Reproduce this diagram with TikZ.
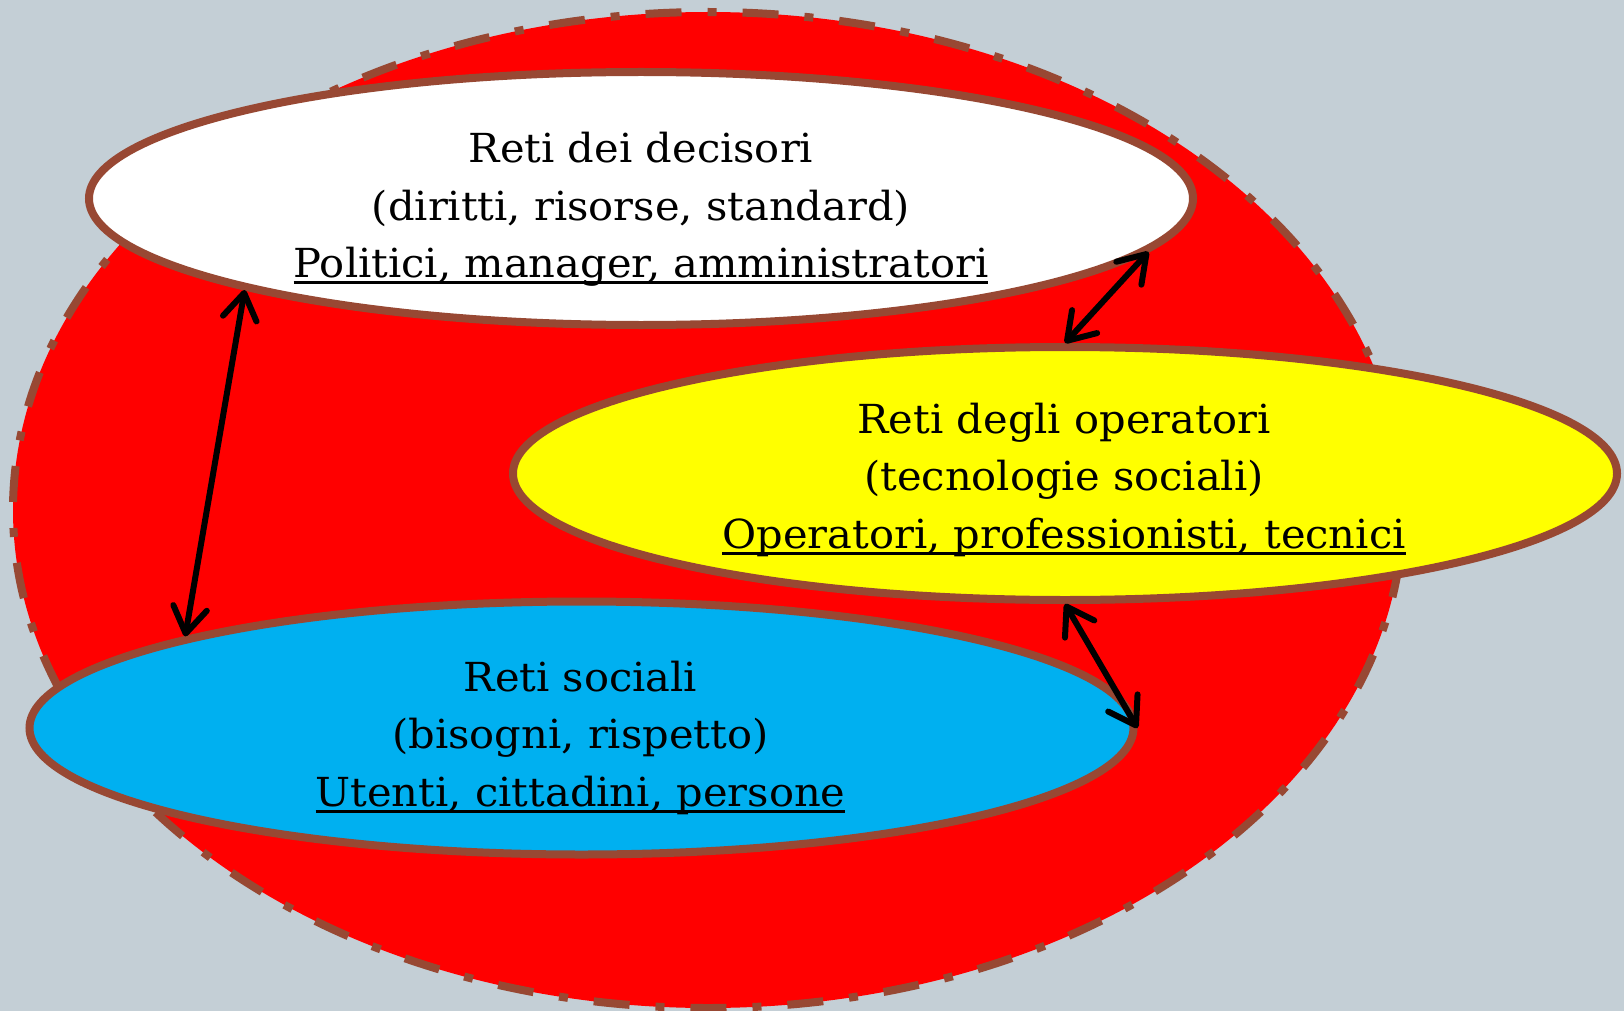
\documentclass[tikz,border=0pt]{standalone}
\usepackage{fontspec}
\setmainfont{DejaVu Serif}[FakeStretch=1.04]
\usetikzlibrary{shapes.geometric,arrows.meta}
\definecolor{bgc}{RGB}{196,207,214}
\definecolor{brownc}{RGB}{152,72,51}
\definecolor{bluec}{RGB}{0,176,240}
\definecolor{yellowc}{RGB}{255,255,0}
\newsavebox\ulbox
\newcommand\myul[1]{\sbox\ulbox{#1}\rlap{\rule[-7pt]{\wd\ulbox}{3pt}}\usebox\ulbox}
\tikzset{
  oval/.style={ellipse, draw=brownc, line width=8pt, minimum width=1104pt, minimum height=253pt, inner sep=0pt},
  txt/.style={anchor=base, inner sep=0pt, font=\fontsize{40}{57}\selectfont},
  link/.style={line width=6pt, black, {Straight Barb[length=26pt,width=34pt,line cap=round,line join=round]}-{Straight Barb[length=26pt,width=34pt,line cap=round,line join=round]}}
}
\begin{document}
\begin{tikzpicture}[x=1pt,y=-1pt]
\useasboundingbox (0,0) rectangle (1624,1011);
\fill[bgc] (0,0) rectangle (1624,1011);
\node[ellipse, fill=red, draw=brownc, line width=8pt, dash pattern=on 36pt off 26pt on 9pt off 26pt, minimum width=1390pt, minimum height=996pt, inner sep=0pt] (all) at (708,510) {};
\node[oval, fill=white] (white) at (641,198.5) {};
\node[oval, fill=yellowc] (yellow) at (1065,473.5) {};
\node[oval, fill=bluec] (blue) at (581.5,728) {};
\node[txt] (w1) at (641,163) {Reti dei decisori};
\node[txt] (w2) at (641,220) {(diritti, risorse, standard)};
\node[txt] (w3) at (641,277) {\myul{Politici, manager, amministratori}};
\node[txt] (y1) at (1064,433) {Reti degli operatori};
\node[txt] (y2) at (1064,490) {(tecnologie sociali)};
\node[txt] (y3) at (1064,548) {\myul{Operatori, professionisti, tecnici}};
\node[txt] (b1) at (580.5,691) {Reti sociali};
\node[txt] (b2) at (580.5,748) {(bisogni, rispetto)};
\node[txt] (b3) at (580.5,806) {\myul{Utenti, cittadini, persone}};
\draw[link] (white.193.8) -- (blue.167.2);
\draw[link] (white.-6.3) -- (yellow.north);
\draw[link] (yellow.south) -- (blue.east);
\end{tikzpicture}
\end{document}
